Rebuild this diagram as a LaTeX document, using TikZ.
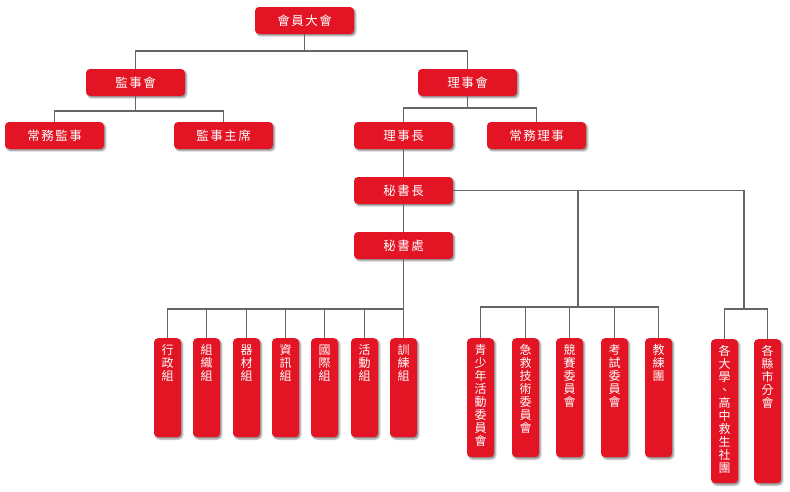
\documentclass[tikz,border=0pt]{standalone}
\usepackage{fontspec}
\newfontfamily\cjk{Noto Sans CJK TC}
\newfontfamily\cjksp[LetterSpace=12]{Noto Sans CJK TC}
\usetikzlibrary{shadows.blur}
\definecolor{cred}{HTML}{E31424}
\definecolor{cline}{HTML}{666666}
\tikzset{
  box/.style={fill=cred, rounded corners=4pt, text=white, inner sep=0pt,
    font=\cjksp\fontsize{12.5}{14}\selectfont,
    blur shadow={shadow xshift=1.6pt, shadow yshift=-1.8pt, shadow blur radius=1.6pt, shadow opacity=45}},
  hbox/.style={box, minimum width=99pt, minimum height=27pt},
  vbox/.style={box, anchor=north, font=\cjk\fontsize{12}{13}\selectfont},
  conn/.style={draw=cline, line width=1.2pt}
}
\newcommand{\vtext}[2]{\parbox[t][#1][t]{27pt}{\centering\vspace*{6.5pt}#2}}
\begin{document}
\begin{tikzpicture}[x=1pt,y=-1pt]
\useasboundingbox (0,0) rectangle (790,491);
% horizontal boxes
\node[hbox] (top) at (304.5,20.5) {會員大會};
\node[hbox] (jsh) at (135.5,82.5) {監事會};
\node[hbox] (lsh) at (467.5,82.5) {理事會};
\node[hbox] (cwjs) at (54.5,135.5) {常務監事};
\node[hbox] (jszx) at (223.5,135.5) {監事主席};
\node[hbox] (lsz) at (403.5,135.5) {理事長};
\node[hbox] (cwls) at (536.5,135.5) {常務理事};
\node[hbox] (msz) at (403.5,190.5) {秘書長};
\node[hbox] (msc) at (403.5,245.5) {秘書處};
% left group
\node[vbox] (v1) at (167.5,338) {\vtext{99pt}{行\\政\\組}};
\node[vbox] (v2) at (206.5,338) {\vtext{99pt}{組\\織\\組}};
\node[vbox] (v3) at (246.5,338) {\vtext{99pt}{器\\材\\組}};
\node[vbox] (v4) at (285.5,338) {\vtext{99pt}{資\\訊\\組}};
\node[vbox] (v5) at (324.5,338) {\vtext{99pt}{國\\際\\組}};
\node[vbox] (v6) at (364.5,338) {\vtext{99pt}{活\\動\\組}};
\node[vbox] (v7) at (403.5,338) {\vtext{99pt}{訓\\練\\組}};
% middle group
\node[vbox] (w1) at (480.5,338) {\vtext{119pt}{青\\少\\年\\活\\動\\委\\員\\會}};
\node[vbox] (w2) at (525.5,338) {\vtext{119pt}{急\\救\\技\\術\\委\\員\\會}};
\node[vbox] (w3) at (569.5,338) {\vtext{119pt}{競\\賽\\委\\員\\會}};
\node[vbox] (w4) at (614.5,338) {\vtext{119pt}{考\\試\\委\\員\\會}};
\node[vbox] (w5) at (658.5,338) {\vtext{119pt}{教\\練\\團}};
% right group
\node[vbox] (f1) at (724.5,339) {\vtext{144pt}{各\\大\\學\\、\\高\\中\\救\\生\\社\\團}};
\node[vbox] (f2) at (767.5,339) {\vtext{144pt}{各\\縣\\市\\分\\會}};
% bus coordinates
\coordinate (b1) at (0,51);
\coordinate (b2) at (0,111);
\coordinate (b3) at (0,108);
\coordinate (b4) at (0,309);
\coordinate (m1) at (578,307);
\coordinate (r1) at (744,309);
% connectors
\draw[conn] (top.south) -- (top.south |- b1);
\draw[conn] (jsh.north) |- (top.south |- b1) -| (lsh.north);
\draw[conn] (jsh.south) -- (jsh.south |- b2);
\draw[conn] (cwjs.north) |- (jsh.south |- b2) -| (jszx.north);
\draw[conn] (lsh.south) -- (lsh.south |- b3);
\draw[conn] (lsz.north) |- (lsh.south |- b3) -| (cwls.north);
\draw[conn] (lsz.south) -- (msz.north);
\draw[conn] (msz.south) -- (msc.north);
\draw[conn] (msc.south) -- (v7.north);
\draw[conn] (v1.north) |- (msc.south |- b4);
\foreach \n in {v2,v3,v4,v5,v6} \draw[conn] (\n.north) -- (\n.north |- b4);
\draw[conn] (msz.east) -| (r1);
\draw[conn] (msz.east -| m1) -- (m1);
\draw[conn] (w1.north) |- (m1) -| (w5.north);
\foreach \n in {w2,w3,w4} \draw[conn] (\n.north) -- (\n.north |- m1);
\draw[conn] (f1.north) |- (r1) -| (f2.north);
\end{tikzpicture}
\end{document}
